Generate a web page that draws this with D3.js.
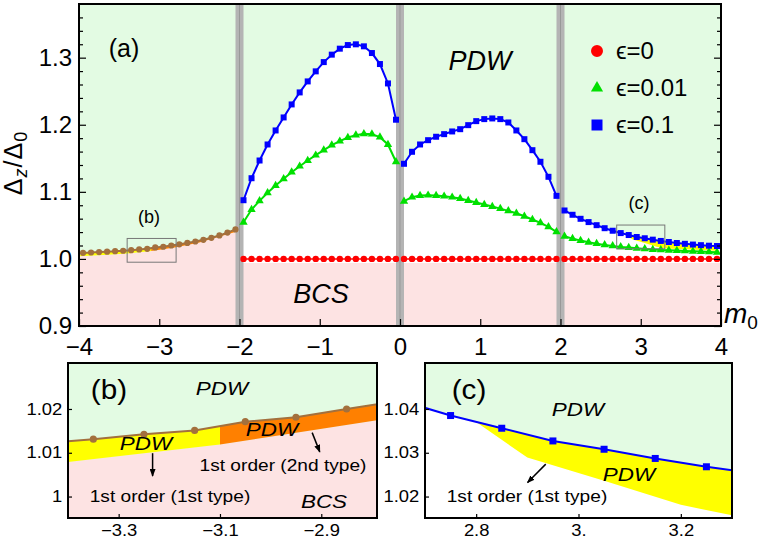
<!DOCTYPE html>
<html>
<head>
<meta charset="utf-8">
<script src="https://cdnjs.cloudflare.com/ajax/libs/d3/7.8.5/d3.min.js"></script>
<style>
  body { margin: 0; background: #fff; }
  svg { display: block; font-family: "Liberation Sans", Arial, sans-serif; }
</style>
</head>
<body>
<svg id="chart" width="769" height="543"></svg>
<script>
//========================== Data ================================

// m0 sample points of each branch
const mLeft = [-3.95,-3.85,-3.75,-3.65,-3.55,-3.45,-3.35,-3.25,-3.15,-3.05,-2.95,-2.85,-2.75,-2.65,-2.55,-2.45,-2.35,-2.25,-2.15,-2.05]
const mA = [-1.95,-1.85,-1.75,-1.65,-1.55,-1.45,-1.35,-1.25,-1.15,-1.05,-0.95,-0.85,-0.75,-0.65,-0.55,-0.45,-0.35,-0.25,-0.15,-0.05]
const mB = [0.05,0.15,0.25,0.35,0.45,0.55,0.65,0.75,0.85,0.95,1.05,1.15,1.25,1.35,1.45,1.55,1.65,1.75,1.85,1.95]
const mC = [2.05,2.15,2.25,2.35,2.45,2.55,2.65,2.75,2.85,2.95,3.05,3.15,3.25,3.35,3.45,3.55,3.65,3.75,3.85,3.95]

// eps = 0 : PDW branch for m0 < -2 (brown) and BCS value elsewhere (red)
const eps0Left = [1.0090,1.0096,1.0102,1.0108,1.0115,1.0122,1.0131,1.0142,1.0151,1.0171,1.0181,1.0200,1.0218,1.0238,1.0260,1.0285,1.0315,1.0350,1.0392,1.0440]
const eps0A = [1,1,1,1,1,1,1,1,1,1,1,1,1,1,1,1,1,1,1,1]
const eps0B = [1,1,1,1,1,1,1,1,1,1,1,1,1,1,1,1,1,1,1,1]
const eps0C = [1,1,1,1,1,1,1,1,1,1,1,1,1,1,1,1,1,1,1,1]

// eps = 0.01
const eps001A = [1.0547,1.0736,1.0866,1.0985,1.1094,1.1194,1.1293,1.1382,1.1467,1.1546,1.1621,1.1696,1.1755,1.1810,1.1845,1.1866,1.1860,1.1815,1.1706,1.1448]
const eps001B = [1.0860,1.0920,1.0945,1.0950,1.0945,1.0935,1.0920,1.0900,1.0870,1.0840,1.0810,1.0780,1.0750,1.0716,1.0681,1.0636,1.0587,1.0537,1.0478,1.0403]
const eps001C = [1.0337,1.0303,1.0273,1.0248,1.0228,1.0209,1.0194,1.0179,1.0169,1.0158,1.0149,1.0139,1.0134,1.0129,1.0124,1.0119,1.0114,1.0109,1.0104,1.0099]

// eps = 0.1
const eps01A = [1.0875,1.1203,1.1467,1.1706,1.1915,1.2109,1.2303,1.2482,1.2646,1.2796,1.2934,1.3045,1.3134,1.3188,1.3199,1.3169,1.3069,1.2905,1.2616,1.2075]
const eps01B = [1.1418,1.1597,1.1706,1.1770,1.1821,1.1860,1.1900,1.1934,1.1994,1.2054,1.2084,1.2094,1.2084,1.2034,1.1915,1.1785,1.1621,1.1448,1.1224,1.0940]
const eps01C = [1.0722,1.0658,1.0598,1.0549,1.0503,1.0458,1.0420,1.0385,1.0356,1.0327,1.0308,1.0287,1.0268,1.0252,1.0237,1.0225,1.0214,1.0205,1.0197,1.0192]

// phase boundaries
const transitions = [-2, 0, 2]
const bandX = [-4.0,-3.7,-3.4,-3.1,-2.79,-2.5,-2.0]          // lower edge of the 1st order band, m0 < -2
const bandY = [1.0040,1.0058,1.0079,1.0119,1.0174,1.0245,1.0420]
const bandSplit = -3.1                                         // 1st type | 2nd type
const yellowX = [2.8,2.9,3.05,3.2,3.3,3.6,3.95]               // lower edge of the 1st order band, m0 > 2
const yellowY = [1.0370,1.0289,1.0236,1.0181,1.0157,1.0140,1.0122]
const bcsTop = 0.994

// ticks
const xTicks = [-4,-3,-2,-1,0,1,2,3,4]
const xTickLabels = ['−4','−3','−2','−1','0','1','2','3','4']
const yTicks = [0.9,1.0,1.1,1.2,1.3]
const yTickLabels = ['0.9','1.0','1.1','1.2','1.3']
const yMinor = [0.92,0.94,0.96,0.98,1.02,1.04,1.06,1.08,1.12,1.14,1.16,1.18,1.22,1.24,1.26,1.28,1.32,1.34,1.36]

const bXTicks = [-3.3,-3.1,-2.9], bXLabels = ['−3.3','−3.1','−2.9']
const bYTicks = [1.0,1.01,1.02], bYLabels = ['1','1.01','1.02']
const cXTicks = [2.8,3.0,3.2], cXLabels = ['2.8','3.','3.2']
const cYTicks = [1.02,1.03,1.04], cYLabels = ['1.02','1.03','1.04']

const legendLabels = ['ϵ=0','ϵ=0.01','ϵ=0.1'];

//========================== Setup ================================

(function() {

  const svg = d3.select('#chart')
  const defs = svg.append('defs')

  const cGreenBg = '#e3fbe3', cPink = '#fde3e3', cYellow = '#ffff00', cOrange = '#ff8000',
        cBrown = '#a3703d', cRed = '#ff0000', cGreen = '#00e000', cBlue = '#0000ff'

  let pairs = (xs, ys) => xs.map((v, i) => [v, ys[i]])

  let clipRect = (id, x0, y0, w, h) => {
    defs.append('clipPath').attr('id', id).append('rect')
      .attr('x', x0).attr('y', y0).attr('width', w).attr('height', h)
  }

  // marker for the annotation arrows
  defs.append('marker').attr('id', 'arrow')
    .attr('viewBox', '0 0 8 6').attr('refX', 7).attr('refY', 3)
    .attr('markerWidth', 8).attr('markerHeight', 6)
    .attr('markerUnits', 'userSpaceOnUse').attr('orient', 'auto')
    .append('path').attr('d', 'M0,0 L8,3 L0,6 Z').attr('fill', '#000')

  let drawSeries = (g, data, sx, sy, color, type, size, width) => {
    g.append('path').datum(data)
      .attr('fill', 'none').attr('stroke', color).attr('stroke-width', width)
      .attr('d', d3.line().x(d => sx(d[0])).y(d => sy(d[1])))
    g.selectAll(null).data(data).join('path')
      .attr('transform', d => `translate(${sx(d[0])},${sy(d[1])})`)
      .attr('d', d3.symbol(type, size))
      .attr('fill', color)
  }

  // 1st order band below the brown branch, yellow (1st type) and orange (2nd type)
  let drawBand = (g, sx, sy, id) => {
    let brown = pairs(mLeft, eps0Left)
    let lower = pairs(bandX, bandY)
    let [yb, yt] = sy.range()
    g.append('path').datum(lower).attr('fill', cPink)
      .attr('d', d3.area().x(d => sx(d[0])).y0(yb).y1(d => sy(d[1])))
    let poly = brown.concat(lower.slice().reverse())
    let split = sx(bandSplit)
    clipRect(id + '-yel', split - 1000, yt, 1000, yb - yt)
    clipRect(id + '-ora', split, yt, 1000, yb - yt)
    let path = d3.line().x(d => sx(d[0])).y(d => sy(d[1]))
    g.append('path').attr('d', path(poly) + 'Z').attr('fill', cYellow).attr('clip-path', `url(#${id}-yel)`)
    g.append('path').attr('d', path(poly) + 'Z').attr('fill', cOrange).attr('clip-path', `url(#${id}-ora)`)
  }

  // white gap region under the eps=0.1 curve, down to the BCS phase
  let drawWhite = (g, sx, sy, ms, vals, span) => {
    let p = pairs(ms, vals)
    p = [[span[0], p[0][1]]].concat(p, [[span[1], p[p.length - 1][1]]])
    g.append('path').datum(p).attr('fill', '#fff')
      .attr('d', d3.area().x(d => sx(d[0])).y0(sy(bcsTop)).y1(d => sy(d[1])))
  }

  // yellow 1st order band for m0 > 2
  let drawYellow = (g, sx, sy) => {
    let lower = pairs(yellowX, yellowY)
    let top = pairs(mC, eps01C).filter(d => d[0] > yellowX[0])
    let poly = [lower[0]].concat(top, lower.slice(1).reverse())
    g.append('path').attr('fill', cYellow)
      .attr('d', d3.line().x(d => sx(d[0])).y(d => sy(d[1]))(poly) + 'Z')
  }

  let styleAxis = (g, size, sxText) => {
    g.select('.domain').remove()
    g.selectAll('.tick line').attr('stroke', '#000').attr('stroke-width', 1.2)
    g.selectAll('.tick text').attr('font-family', '"Liberation Sans", Arial, sans-serif')
      .attr('font-size', size).attr('fill', '#000')
    if (sxText) g.selectAll('.tick text').attr('transform', `scale(${sxText},1)`)
  }

//========================== Main panel ================================

  const main = {left: 79, right: 721, top: 4, bottom: 326}
  const x = d3.scaleLinear().domain([-4, 4]).range([main.left, main.right])
  const y = d3.scaleLinear().domain([0.9, 1.38]).range([main.bottom, main.top])

  clipRect('clip-main', main.left, main.top, main.right - main.left, main.bottom - main.top)
  let plot = svg.append('g').attr('clip-path', 'url(#clip-main)')

  plot.append('rect').attr('x', main.left).attr('y', main.top)
    .attr('width', main.right - main.left).attr('height', main.bottom - main.top).attr('fill', cGreenBg)

  drawBand(plot, x, y, 'main')
  plot.append('rect').attr('x', x(transitions[0])).attr('y', y(bcsTop))
    .attr('width', x(4) - x(transitions[0])).attr('height', y(0.9) - y(bcsTop)).attr('fill', cPink)

  const branches = [
    {m: mA, red: eps0A, green: eps001A, blue: eps01A, span: [transitions[0], transitions[1]]},
    {m: mB, red: eps0B, green: eps001B, blue: eps01B, span: [transitions[1], transitions[2]]},
    {m: mC, red: eps0C, green: eps001C, blue: eps01C, span: [transitions[2], 4]}
  ]
  branches.forEach(b => drawWhite(plot, x, y, b.m, b.blue, b.span))
  drawYellow(plot, x, y)

  // first order transition lines
  transitions.forEach(t => {
    plot.append('rect').attr('x', x(t) - 4).attr('y', main.top).attr('width', 8)
      .attr('height', main.bottom - main.top).attr('fill', '#b4b4b4')
    plot.append('line').attr('x1', x(t)).attr('x2', x(t)).attr('y1', main.top).attr('y2', main.bottom)
      .attr('stroke', '#999').attr('stroke-width', 1)
  })

  drawSeries(plot, pairs(mLeft, eps0Left), x, y, cBrown, d3.symbolCircle, 30, 2)
  branches.forEach(b => {
    drawSeries(plot, pairs(b.m, b.red), x, y, cRed, d3.symbolCircle, 32, 1.5)
    drawSeries(plot, pairs(b.m, b.green), x, y, cGreen, d3.symbolTriangle, 30, 2)
    drawSeries(plot, pairs(b.m, b.blue), x, y, cBlue, d3.symbolSquare, 36, 2)
  })

//========================== Insets ================================

  const insets = [
    {id: 'b', left: 68, right: 377, top: 363, bottom: 518, xd: [-3.4, -2.79], yd: [0.9951, 1.0305],
     xt: bXTicks, xl: bXLabels, yt: bYTicks, yl: bYLabels},
    {id: 'c', left: 425, right: 732, top: 363, bottom: 518, xd: [2.7, 3.3], yd: [1.0151, 1.0505],
     xt: cXTicks, xl: cXLabels, yt: cYTicks, yl: cYLabels}
  ]

  // zoom boxes in the main panel
  insets.forEach(p => {
    plot.append('rect').attr('x', x(p.xd[0])).attr('y', y(p.yd[1]))
      .attr('width', x(p.xd[1]) - x(p.xd[0])).attr('height', y(p.yd[0]) - y(p.yd[1]))
      .attr('fill', 'none').attr('stroke', '#777').attr('stroke-width', 1)
  })

  insets.forEach(p => {
    p.sx = d3.scaleLinear().domain(p.xd).range([p.left, p.right])
    p.sy = d3.scaleLinear().domain(p.yd).range([p.bottom, p.top])
    clipRect('clip-' + p.id, p.left, p.top, p.right - p.left, p.bottom - p.top)
    let g = svg.append('g').attr('clip-path', `url(#clip-${p.id})`)
    g.append('rect').attr('x', p.left).attr('y', p.top)
      .attr('width', p.right - p.left).attr('height', p.bottom - p.top).attr('fill', cGreenBg)
    if (p.id === 'b') {
      drawBand(g, p.sx, p.sy, 'inb')
      drawSeries(g, pairs(mLeft, eps0Left), p.sx, p.sy, cBrown, d3.symbolCircle, 40, 2)
    } else {
      drawWhite(g, p.sx, p.sy, mC, eps01C, [transitions[2], 4])
      drawYellow(g, p.sx, p.sy)
      drawSeries(g, pairs(mC, eps01C), p.sx, p.sy, cBlue, d3.symbolSquare, 49, 2)
    }

    svg.append('g').attr('transform', `translate(0,${p.bottom})`)
      .call(d3.axisBottom(p.sx).tickValues(p.xt).tickFormat((d, i) => p.xl[i])
        .tickSizeInner(-4).tickSizeOuter(0).tickPadding(7))
      .call(g => styleAxis(g, 16, 1.15))
    svg.append('g').attr('transform', `translate(${p.left},0)`)
      .call(d3.axisLeft(p.sy).tickValues(p.yt).tickFormat((d, i) => p.yl[i])
        .tickSizeInner(-4).tickSizeOuter(0).tickPadding(5))
      .call(g => styleAxis(g, 16, 1.15))

    svg.append('rect').attr('x', p.left).attr('y', p.top)
      .attr('width', p.right - p.left).attr('height', p.bottom - p.top)
      .attr('fill', 'none').attr('stroke', '#000').attr('stroke-width', 2)
  })

//========================== Main axes ================================

  svg.append('rect').attr('x', main.left).attr('y', main.top)
    .attr('width', main.right - main.left).attr('height', main.bottom - main.top)
    .attr('fill', 'none').attr('stroke', '#000').attr('stroke-width', 2)

  svg.append('g').attr('transform', `translate(0,${main.bottom})`)
    .call(d3.axisBottom(x).tickValues(xTicks).tickFormat((d, i) => xTickLabels[i])
      .tickSizeInner(-7).tickSizeOuter(0).tickPadding(12))
    .call(g => styleAxis(g, 24))
  svg.append('g').attr('transform', `translate(${main.left},0)`)
    .call(d3.axisLeft(y).tickValues(yTicks).tickFormat((d, i) => yTickLabels[i])
      .tickSizeInner(-7).tickSizeOuter(0).tickPadding(7))
    .call(g => styleAxis(g, 24))
  svg.append('g').attr('transform', `translate(${main.left},0)`)
    .call(d3.axisLeft(y).tickValues(yMinor).tickFormat('').tickSizeInner(-4).tickSizeOuter(0))
    .call(g => styleAxis(g, 24))
  svg.append('g').attr('transform', `translate(${main.right},0)`)
    .call(d3.axisRight(y).tickValues(yTicks).tickFormat('').tickSizeInner(-7).tickSizeOuter(0))
    .call(g => styleAxis(g, 24))
  svg.append('g').attr('transform', `translate(${main.right},0)`)
    .call(d3.axisRight(y).tickValues(yMinor).tickFormat('').tickSizeInner(-4).tickSizeOuter(0))
    .call(g => styleAxis(g, 24))

  // axis titles
  let yt = svg.append('text').attr('transform', 'translate(22,163) rotate(-90)')
    .attr('text-anchor', 'middle').attr('font-size', 25).attr('letter-spacing', 1)
  yt.append('tspan').text('Δ')
  yt.append('tspan').attr('font-size', 18).attr('font-style', 'italic').attr('dy', 5).text('z')
  yt.append('tspan').attr('dy', -5).text('/Δ')
  yt.append('tspan').attr('font-size', 18).attr('dy', 5).text('0')

  let xt = svg.append('text').attr('x', 724).attr('y', 323).attr('font-size', 28)
  xt.append('tspan').attr('font-style', 'italic').text('m')
  xt.append('tspan').attr('font-size', 19).attr('dy', 6).text('0')

//========================== Labels ================================

  let label = (txt, px, py, size, italic, sxText) => {
    svg.append('text').attr('transform', `translate(${px},${py}) scale(${sxText || 1},1)`)
      .attr('text-anchor', 'middle').attr('font-size', size)
      .attr('font-style', italic ? 'italic' : null).attr('fill', '#000').text(txt)
  }

  label('(a)', 124, 57, 25)
  label('PDW', 480, 70, 27, true)
  label('BCS', 321, 303, 27, true)
  label('(b)', 149, 223, 18)
  label('(c)', 639, 209, 18)

  // inset (b)
  label('(b)', 109, 399, 27, false, 1.1)
  label('PDW', 222, 395, 19, true, 1.18)
  label('PDW', 146, 450, 19, true, 1.18)
  label('PDW', 272, 436, 19, true, 1.18)
  label('1st order (2nd type)', 283, 471, 16.5, false, 1.16)
  label('1st order (1st type)', 170, 502, 16.5, false, 1.16)
  label('BCS', 324, 508, 19, true, 1.18)

  // inset (c)
  label('(c)', 469, 399, 27, false, 1.1)
  label('PDW', 578, 416, 19, true, 1.18)
  label('PDW', 629, 481, 19, true, 1.18)
  label('1st order (1st type)', 527, 502, 16.5, false, 1.16)

  // arrows, in inset data coordinates
  let arrow = (p, a, b) => {
    svg.append('line')
      .attr('x1', p.sx(a[0])).attr('y1', p.sy(a[1])).attr('x2', p.sx(b[0])).attr('y2', p.sy(b[1]))
      .attr('stroke', '#000').attr('stroke-width', 1.5).attr('marker-end', 'url(#arrow)')
  }
  arrow(insets[0], [-3.233, 1.0099], [-3.233, 1.0047])
  arrow(insets[0], [-2.918, 1.0146], [-2.903, 1.0102])
  arrow(insets[1], [2.936, 1.0274], [2.9005, 1.0232])

//========================== Legend ================================

  const legendSyms = [
    {type: d3.symbolCircle, size: 113, color: cRed},
    {type: d3.symbolTriangle, size: 64, color: cGreen},
    {type: d3.symbolSquare, size: 121, color: cBlue}
  ]
  legendLabels.forEach((txt, i) => {
    let cy = 51 + i * 37
    svg.append('path').attr('transform', `translate(597,${cy})`)
      .attr('d', d3.symbol(legendSyms[i].type, legendSyms[i].size)).attr('fill', legendSyms[i].color)
    svg.append('text').attr('x', 616).attr('y', cy + 8).attr('font-size', 24).attr('fill', '#000').text(txt)
  })

})()
</script>
</body>
</html>
